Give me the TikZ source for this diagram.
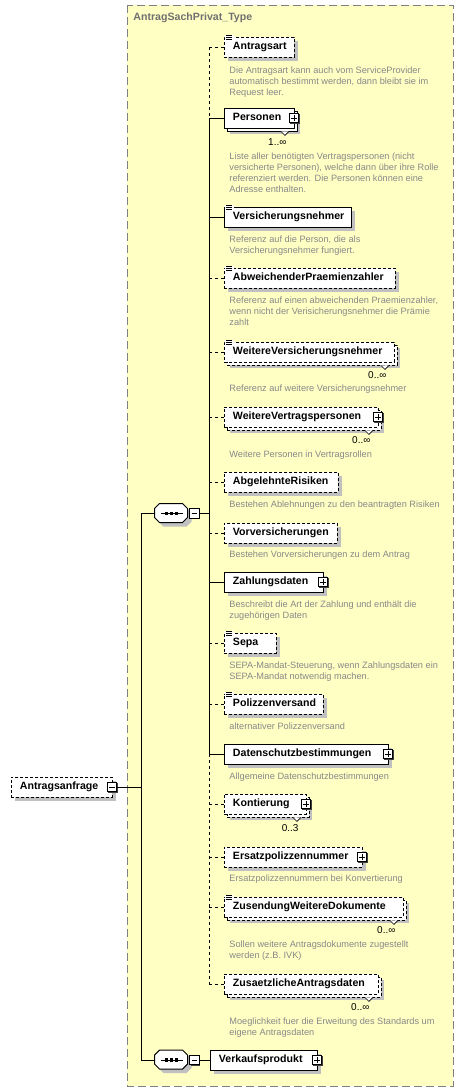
\documentclass[tikz,border=0pt]{standalone}
\usepackage{fontspec}
\setmainfont{Liberation Sans}
\usetikzlibrary{shadows, positioning}

\begin{document}
\begin{tikzpicture}[x=1pt, y=-1pt, line width=0.9pt,
  elem/.style={draw, fill=white, anchor=west, inner xsep=8.5pt, inner ysep=0pt, minimum height=20pt,
    align=left, text height=8pt, text depth=2.5pt, font=\bfseries\fontsize{10.6}{12}\selectfont},
  opt/.style={elem, dash pattern=on 3pt off 2pt},
  shad/.style={drop shadow={shadow xshift=4pt, shadow yshift=-4pt, fill=shadowgrey, opacity=1}},
  shadmulti/.style={drop shadow={shadow xshift=6pt, shadow yshift=-6pt, fill=shadowgrey, opacity=1},
    copy shadow={shadow xshift=3pt, shadow yshift=-3pt, draw=black, fill=white, opacity=1}},
  desc/.style={anchor=north west, align=left, inner sep=0pt, text=descgrey, font=\fontsize{9.2}{11}\selectfont},
  mult/.style={anchor=east, inner sep=0pt, font=\fontsize{10}{12}\selectfont},
  pmbox/.style={draw, fill=white, line width=1pt, minimum size=9.5pt, inner sep=0pt,
    drop shadow={shadow xshift=1pt, shadow yshift=-1pt, fill=black!75, opacity=1}},
  plusbox/.style={pmbox, path picture={
    \draw[line width=0.8pt] ([xshift=1.8pt]path picture bounding box.west) -- ([xshift=-1.8pt]path picture bounding box.east);
    \draw[line width=0.8pt] ([yshift=-1.8pt]path picture bounding box.north) -- ([yshift=1.8pt]path picture bounding box.south);}},
  minusbox/.style={pmbox, path picture={
    \draw[line width=0.8pt] ([xshift=1.8pt]path picture bounding box.west) -- ([xshift=-1.8pt]path picture bounding box.east);}},
  seq/.style={rectangle, minimum width=33pt, minimum height=19pt, inner sep=0pt},
  conn/.style={dash pattern=on 3pt off 3pt}]

%colours
\definecolor{typecolor}{RGB}{255,255,196}
\definecolor{bordergrey}{RGB}{128,128,128}
\definecolor{shadowgrey}{RGB}{192,192,192}
\definecolor{descgrey}{RGB}{136,136,136}
\definecolor{titlegrey}{RGB}{112,112,112}

\useasboundingbox (0,0) rectangle (464,1092);

%type box
\draw[draw=bordergrey, fill=typecolor, dash pattern=on 8pt off 4pt] (127,5) rectangle (453,1086);
\node[anchor=west, inner sep=0pt, text=titlegrey, font=\bfseries\fontsize{10.6}{12}\selectfont] (typename) at (133,18) {AntragSachPrivat\_Type};

%elements
  \node[opt, shad, text width=53] (e1) at (224,47) {Antragsart};
  \node[elem, shadmulti, text width=53] (e2) at (224,118) {Personen};
  \node[elem, shad, text width=110] (e3) at (224,217) {Versicherungsnehmer};
  \node[opt, shad, text width=154] (e4) at (224,278) {AbweichenderPraemienzahler};
  \node[opt, shadmulti, text width=153] (e5) at (224,352) {WeitereVersicherungsnehmer};
  \node[opt, shadmulti, text width=137] (e6) at (224,417) {WeitereVertragspersonen};
  \node[opt, shad, text width=97] (e7) at (224,482) {AbgelehnteRisiken};
  \node[opt, shad, text width=96] (e8) at (224,533) {Vorversicherungen};
  \node[elem, shad, text width=82] (e9) at (224,582) {Zahlungsdaten};
  \node[opt, shad, text width=35] (e10) at (224,643) {Sepa};
  \node[opt, shad, text width=82] (e11) at (224,704) {Polizzenversand};
  \node[elem, shad, text width=147] (e12) at (224,754) {Datenschutzbestimmungen};
  \node[opt, shadmulti, text width=65] (e13) at (224,804) {Kontierung};
  \node[opt, shad, text width=121] (e14) at (224,857) {Ersatzpolizzennummer};
  \node[opt, shadmulti, text width=162] (e15) at (224,907) {ZusendungWeitereDokumente};
  \node[opt, shadmulti, text width=137] (e16) at (224,984) {ZusaetzlicheAntragsdaten};
  \node[elem, shad, text width=90] (vp) at (210,1060) {Verkaufsprodukt};
  \node[opt, shad, text width=84] (root) at (11,787) {Antragsanfrage};

%documentation marks
  \foreach \n in {e1,e3,e4,e5,e10,e11,e15}{
    \fill[white] ([xshift=0.5pt, yshift=2pt]\n.north west) rectangle ++(9,6);
    \foreach \dy in {1,-1,-3}
      \draw[line width=0.6pt] ([xshift=2pt, yshift=\dy pt]\n.north west) -- ++(6,0);
  }

%multiple occurrence notches
  \foreach \n in {e2,e5,e6,e13,e15,e16}
    \draw[line width=0.6pt, fill=white] ([xshift=-14pt, yshift=-3pt]\n.south east) -- ++(4,4) -- ++(4,-4);

%expand boxes
  \foreach \n in {e2,e6,e9,e12,e13,e14,vp}
    \node[plusbox] (\n p) at ([xshift=-1pt]\n.east) {};
  \node[minusbox] (rootm) at ([xshift=-1pt]root.east) {};

%occurrences
  \node[mult] (e2m) at ([xshift=-8pt, yshift=-24pt]e2.east) {1..∞};
  \node[mult] (e5m) at ([xshift=-8pt, yshift=-23pt]e5.east) {0..∞};
  \node[mult] (e6m) at ([xshift=-8pt, yshift=-23pt]e6.east) {0..∞};
  \node[mult] (e13m) at ([xshift=-8pt, yshift=-24pt]e13.east) {0..3};
  \node[mult] (e15m) at ([xshift=-8pt, yshift=-23pt]e15.east) {0..∞};
  \node[mult] (e16m) at ([xshift=-9pt, yshift=-23pt]e16.east) {0..∞};

%descriptions
  \node[desc] (d1) at (229,66.5) {Die Antragsart kann auch vom ServiceProvider\\automatisch bestimmt werden, dann bleibt sie im\\Request leer.};
  \node[desc] (d2) at (229,152.5) {Liste aller benötigten Vertragspersonen (nicht\\versicherte Personen), welche dann über ihre Rolle\\referenziert werden. Die Personen können eine\\Adresse enthalten.};
  \node[desc] (d3) at (229,235.5) {Referenz auf die Person, die als\\Versicherungsnehmer fungiert.};
  \node[desc] (d4) at (229,296.5) {Referenz auf einen abweichenden Praemienzahler,\\wenn nicht der Verisicherungsnehmer die Prämie\\zahlt};
  \node[desc] (d5) at (229,384.5) {Referenz auf weitere Versicherungsnehmer};
  \node[desc] (d6) at (229,450) {Weitere Personen in Vertragsrollen};
  \node[desc] (d7) at (229,500) {Bestehen Ablehnungen zu den beantragten Risiken};
  \node[desc] (d8) at (229,550.5) {Bestehen Vorversicherungen zu dem Antrag};
  \node[desc] (d9) at (229,600.5) {Beschreibt die Art der Zahlung und enthält die\\zugehörigen Daten};
  \node[desc] (d10) at (229,661) {SEPA-Mandat-Steuerung, wenn Zahlungsdaten ein\\SEPA-Mandat notwendig machen.};
  \node[desc] (d11) at (229,722) {alternativer Polizzenversand};
  \node[desc] (d12) at (229,772.5) {Allgemeine Datenschutzbestimmungen};
  \node[desc] (d14) at (229,874.5) {Ersatzpolizzennummern bei Konvertierung};
  \node[desc] (d15) at (229,940) {Sollen weitere Antragsdokumente zugestellt\\werden (z.B. IVK)};
  \node[desc] (d16) at (229,1017.5) {Moeglichkeit fuer die Erweitung des Standards um\\eigene Antragsdaten};

%sequences
  \node[seq] (s1) at (171.5,513.5) {};
  \node[seq] (s2) at (171.5,1060) {};
  \foreach \s in {s1,s2}{
    \fill[shadowgrey] ([xshift=9pt, yshift=-4pt]\s.north west) -- ++(23,0) -- ++(5,5) -- ++(0,9) -- ++(-5,5)
      -- ++(-23,0) -- ++(-5,-5) -- ++(0,-9) -- cycle;
    \draw[fill=white] ([xshift=5pt]\s.north west) -- ++(23,0) -- ++(5,5) -- ++(0,9) -- ++(-5,5)
      -- ++(-23,0) -- ++(-5,-5) -- ++(0,-9) -- cycle;
    \draw ([xshift=-11pt]\s.center) -- ([xshift=11pt]\s.center);
    \foreach \dx in {-5,0,5}
      \fill ([xshift=\dx pt]\s.center) +(-1.6,-1.6) rectangle +(1.6,1.6);
  }
  \node[minusbox] (s1m) at (194.5,513.5) {};
  \node[minusbox] (s2m) at (194.5,1060) {};

%joints
  \foreach \i/\y in {1/47,2/118,3/217,4/278,5/352,6/417,7/482,8/533,9/582,10/643,11/704,12/754,13/804,14/857,15/907,16/984}
    \coordinate (j\i) at (209,\y);
  \coordinate (js) at (209,513.5);
  \coordinate (l1) at (141,513.5);
  \coordinate (lr) at (141,787);
  \coordinate (l2) at (141,1060);

%edges
  \draw[conn] (j1) -- (j2);
  \draw (j2) -- (j12);
  \draw[conn] (j12) -- (j16);
  \foreach \i in {2,3,9,12}
    \draw (j\i) -- (e\i);
  \foreach \i in {1,4,5,6,7,8,10,11,13,14,15,16}
    \draw[conn] (j\i) -- (e\i);
  \draw (s1m) -- (js);
  \draw (s1.west) -- (l1) -- (l2) -- (s2.west);
  \draw (rootm) -- (lr);
  \draw (s2m) -- (vp);
\end{tikzpicture}
\end{document}
